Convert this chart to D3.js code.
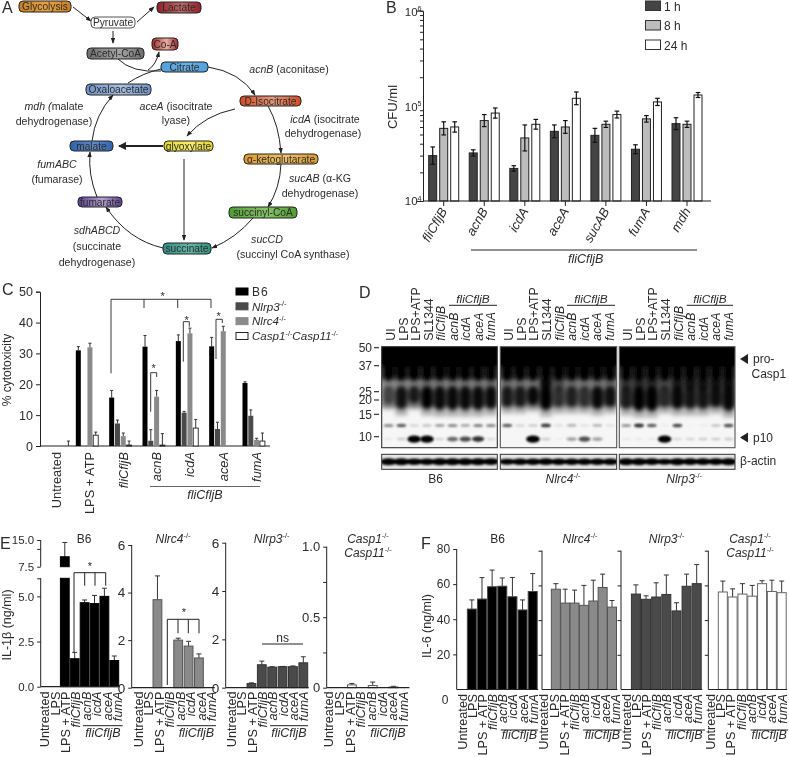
<!DOCTYPE html>
<html><head><meta charset="utf-8">
<script src="https://cdn.jsdelivr.net/npm/d3@7"></script>
<style>html,body{margin:0;background:#fff}svg{display:block;filter:blur(.35px)}text{font-family:"Liberation Sans",Arial,sans-serif;fill:#2b2b2b}</style>
</head><body><div id="c"></div>
<script>
// ---------- DATA ----------
const cfuStrains=["fliCfljB","acnB","icdA","aceA","sucAB","fumA","mdh"];
const cfuTimes=["1 h","8 h","24 h"];
const cfu1h=[30000,32000,22000,54000,49000,35000,65000];
const cfu1hHi=[37000,34500,23500,63000,58000,39000,75000];
const cfu8h=[58000,70000,46000,60000,64000,73000,64000];
const cfu8hHi=[68000,81000,63000,70000,69000,79000,69000];
const cfu24h=[60000,84000,64000,120000,81000,110000,130000];
const cfu24hHi=[68000,95000,72000,140000,88000,120000,138000];

const cytoGroups=["Untreated","LPS + ATP","fliCfljB","acnB","icdA","aceA","fumA"];
const cytoSeries=["B6","Nlrp3","Nlrc4","Casp1Casp11"];
const cytoB6=[0,31,15.7,32.2,34,32.3,20.4];
const cytoB6Hi=[0,32.2,18,35.8,36,35.2,20.8];
const cytoNlrp3=[0,0,7.3,1.7,10.8,5.5,9.8];
const cytoNlrp3Hi=[0,0,8.4,5.3,11.2,7.7,11.7];
const cytoNlrc4=[0,32,3.2,16,36.5,37.2,2];
const cytoNlrc4Hi=[0,33.3,4.2,18,38.2,38.8,2.5];
const cytoCasp=[0,3.5,0.3,0.3,5.8,0,1.6];
const cytoCaspHi=[1.6,4.5,1.6,4,8.6,0,4.2];

const cytokineLabels=["Untreated","LPS","LPS + ATP","fliCfljB","acnB","icdA","aceA","fumA"];
const il1bB6=[0,0,10.3,1.55,4.65,4.6,5,1.45];
const il1bB6Hi=[0,0,14.3,1.9,4.8,5.05,5.45,1.7];
const il1bNlrc4=[0,0,3.7,0,2,1.75,1.25,0];
const il1bNlrc4Hi=[0,0,4.7,0,2.08,1.95,1.42,0];
const il1bNlrp3=[0,0,0.17,0.95,0.85,0.87,0.87,1.03];
const il1bNlrp3Hi=[0,0,0.2,1.1,0.87,0.88,0.9,1.28];
const il1bCasp=[0,0,0.02,0,0.015,0,0.005,0];
const il1bCaspHi=[0,0,0.03,0,0.04,0,0.01,0];
const il6B6=[0,45.8,51.5,58.5,58.8,52.8,45.3,55.8];
const il6B6Hi=[0,51,63.7,68,63.5,63.8,51,66];
const il6Nlrc4=[0,57.8,49.8,49.8,48.5,51,58.8,47.5];
const il6Nlrc4Hi=[0,61,57.8,57.3,60,63,66.5,51.3];
const il6Nlrp3=[0,55,52,53.3,54.8,45.3,59.5,61];
const il6Nlrp3Hi=[0,60.3,54,61.5,66,50,66.5,72];
const il6Casp=[0,56.2,53.3,55,53.8,61,56.5,55.8];
const il6CaspHi=[0,62.5,58,61,60,62.7,63,62.5];

const blotLanes=["UI","LPS","LPS+ATP","SL1344","fliCfljB","acnB","icdA","aceA","fumA"];
const blotMarkers=[50,37,25,20,15,10];
// lane densities, 0..1
const p10B6=[.05,.15,1,1,.12,.5,.6,.7,.1];
const p10Nlrc4=[0,0,1,.15,.03,.3,.6,.3,0];
const p10Nlrp3=[.05,.05,.05,1,.1,.12,.15,.15,.15];
const p13B6=[.5,.7,.15,.25,.4,.5,.35,.55,.5];
const p13Nlrc4=[.7,.15,.2,.85,.1,.3,.1,.3,.1];
const p13Nlrp3=[.45,.9,.7,.05,.8,.02,.05,.25,.75];
const stripB6=[.2,.25,.25,.35,.3,.3,.3,.3,.35];
const stripNlrc4=[.3,.3,.25,.95,.5,.3,.25,.3,.35];
const stripNlrp3=[.6,.7,.7,.45,.8,.85,.85,.85,.9];
const blobB6=[.6,.9,.85,1,.95,.95,.95,.95,.95];
const blobNlrc4=[.85,.85,.95,1,.7,.8,.7,.95,.9];
const blobNlrp3=[.8,1,1,.7,.95,.85,.85,.9,.95];
const blobEndB6=[.56,.62,.56,.62,.63,.63,.63,.63,.62];
const blobEndNlrc4=[.6,.6,.58,.63,.6,.6,.6,.62,.6];
const blobEndNlrp3=[.62,.64,.64,.6,.62,.62,.62,.6,.64];
const actinB6=[.95,.95,.85,.8,.95,.95,.95,.95,.9];
const actinNlrc4=[.7,.8,.8,.9,.8,.8,.8,.8,.8];
const actinNlrp3=[.95,.95,.9,.7,.95,.9,.9,.9,.95];

// pathway
const pathNames=["Glycolysis","Lactate","Pyruvate","Acetyl-CoA","Co-A","Citrate","Oxaloacetate","D-Isocitrate","malate","glyoxylate","α-ketoglutarate","succinyl-CoA","fumarate","succinate"];
const enzymeLabels=["<i>acnB</i> (aconitase)","<i>aceA</i> (isocitrate","lyase)","<i>mdh (</i>malate","dehydrogenase)","<i>icdA</i> (isocitrate","dehydrogenase)","<i>fumABC</i>","(fumarase)","<i>sucAB</i> (α-KG","dehydrogenase)","<i>sdhABCD</i>","(succinate","dehydrogenase)","<i>sucCD</i>","(succinyl CoA synthase)"];

// ---------- LAYOUT ----------
const W=789,H=757;
const svg=d3.select("#c").append("svg").attr("width",W).attr("height",H).attr("viewBox",`0 0 ${W} ${H}`);
const defs=svg.append("defs");
const INK="#222";

function rich(sel,str,supSize){
  const re=/<(i|sup)>(.*?)<\/\1>|([^<]+)/g;let m,after=false;
  const fs=parseFloat(sel.attr("font-size"))||12;
  while((m=re.exec(str))){
    const ts=sel.append("tspan");
    if(m[1]==="i"){ts.attr("font-style","italic").text(m[2]);}
    else if(m[1]==="sup"){ts.attr("font-size",supSize||fs*.62).attr("dy",-fs*.38).text(m[2]);after=true;continue;}
    else ts.text(m[3]);
    if(after){ts.attr("dy",fs*.38);after=false;}
  }
  return sel;
}
function T(x,y,str,size,anchor,rot,g){
  const t=(g||svg).append("text").attr("font-size",size||12).attr("text-anchor",anchor||"start");
  if(rot!=null)t.attr("transform",`translate(${x},${y}) rotate(${rot})`);else t.attr("x",x).attr("y",y);
  return rich(t,str);
}
function ln(x1,y1,x2,y2,w,c){return svg.append("line").attr("x1",x1).attr("y1",y1).attr("x2",x2).attr("y2",y2).attr("stroke",c||INK).attr("stroke-width",w||1);}
function styleAxis(g,w){g.selectAll(".domain").attr("stroke",INK).attr("stroke-width",w||1.2);g.selectAll(".tick line").attr("stroke",INK).attr("stroke-width",w||1.2);g.selectAll("text").attr("fill","#222").style("font-family",'"Liberation Sans",Arial,sans-serif');}
const ital=s=>!/^(Untreated|LPS|UI|SL1344)/.test(s);
const lab=s=>ital(s)?`<i>${s}</i>`:s;

// Panel letters
[["A",2,13],["B",386,13],["C",2,295],["D",359,298],["E",0,549],["F",421,549]].forEach(d=>T(d[1],d[2],d[0],16));

// ---------- PANEL A ----------
const nodeBox=[[19,1,52,11],[157,2,44,11],[91,17,44,11],[87,48,57,11],[152,38,26,12],[161,62,47,10],[86,84,65,11],[240,96,61,10],[70,141,43,10],[164,141,49,10],[244,154,74,10],[229,207,68,11],[78,197,44,10],[163,243,48,11]];
const nodeCols=[["#c97f25","#e9a443"],["#8e1f28","#c06a6a"],["#ffffff","#ffffff"],["#6f6f6f","#a5a5a5"],["#a3282a","#e8b0a0"],["#4f9fdb","#6ab2e6"],["#6f93c8","#a6bfdf"],["#cf4a24","#e79a7e"],["#2f62ad","#5f8cc8"],["#e8d82c","#f8ef6a"],["#dc9a30","#f0c26a"],["#4d9e32","#88c468"],["#5b3f93","#b5a2d0"],["#2f8f80","#66b5a6"]];
const arrowPaths=[
 "M208,67 Q240,72 255,95","M268,106 Q279,125 281,153","M281,164 Q280,188 268,207","M253,218 Q236,238 212,248",
 "M163,248 Q128,240 106,207","M97,197 Q88,175 90,152","M92,141 Q95,115 113,95","M128,83 Q143,73 161,69",
 "M118,59 Q132,73 161,71","M148,70 Q156,65 159,52","M235,109 Q205,115 187,136","M184,159 L184,240",
 "M73,7 L91,21","M137,22 L154,7","M113,31 L113,43"];
const mk=defs.append("marker").attr("id","ah").attr("viewBox","0 0 8 6").attr("refX",7).attr("refY",3).attr("markerWidth",6).attr("markerHeight",4.5).attr("markerUnits","userSpaceOnUse").attr("orient","auto");
mk.append("path").attr("d","M0,0 L8,3 L0,6 Z").attr("fill",INK);
const A=svg.append("g");
arrowPaths.forEach((d,i)=>A.append("path").attr("d",d).attr("fill","none").attr("stroke",INK).attr("stroke-width",1).attr("marker-end",i===7||i===8?null:"url(#ah)"));
A.append("path").attr("d","M163,146 L119,146").attr("stroke",INK).attr("stroke-width",2).attr("fill","none");
A.append("path").attr("d","M126,142 L118,146 L126,150 Z").attr("fill",INK);
pathNames.forEach((n,i)=>{
  const [x,y,w,h]=nodeBox[i],[c0,c1]=nodeCols[i];
  const gr=defs.append("linearGradient").attr("id","g"+i);
  gr.append("stop").attr("offset","0").attr("stop-color",c0);
  gr.append("stop").attr("offset",".55").attr("stop-color",c1);
  gr.append("stop").attr("offset","1").attr("stop-color",c0);
  A.append("rect").attr("x",x).attr("y",y).attr("width",w).attr("height",h).attr("rx",4).attr("fill",`url(#g${i})`).attr("stroke",i===2?"#555":"#222").attr("stroke-width",1);
  T(x+w/2,y+h/2+3.7,n,10.2,"middle",null,A);
});
const enzymePos=[[289,73],[176,110],[176,124],[54,110],[54,125],[325,123],[323,137],[57,168],[57,183],[320,182],[320,197],[97,234],[97,250],[97,266],[267,243],[293,258]];
enzymeLabels.forEach((s,i)=>T(enzymePos[i][0],enzymePos[i][1],s,10.6,"middle",null,A));

// ---------- PANEL B ----------
(function(){
  const y=d3.scaleLog().domain([1e4,1e6]).range([201,10.7]);
  const x=d3.scalePoint().domain(cfuStrains).range([443.7,687]);
  const off=d3.scalePoint().domain(cfuTimes).range([-11,11]);
  const fills=["#444","#bcbcbc","#fff"];
  const major=[1e4,1e5,1e6];
  const ticks=d3.range(1,10).map(d=>d*1e4).concat(d3.range(2,11).map(d=>d*1e5));
  const ax=svg.append("g").attr("transform","translate(423,0)").call(d3.axisLeft(y).tickValues(ticks).tickFormat("").tickSize(3));
  styleAxis(ax,1);
  ax.selectAll(".tick").filter(d=>major.includes(d)).select("line").attr("x2",-6);
  major.forEach((m,i)=>T(421.5,y(m)+(i==0?4:5),`10<sup>${[4,5,6][i]}</sup>`,11.5,"end"));
  const sets=[[cfu1h,cfu1hHi],[cfu8h,cfu8hHi],[cfu24h,cfu24hHi]];
  sets.forEach(([v,hi],k)=>{
    const xx=(i)=>x(cfuStrains[i])+off(cfuTimes[k]);
    svg.append("g").selectAll("rect").data(v).join("rect").attr("x",(d,i)=>xx(i)-4).attr("width",8).attr("y",d=>y(d)).attr("height",d=>y(1e4)-y(d)).attr("fill",fills[k]).attr("stroke","#222").attr("stroke-width",1);
    v.forEach((d,i)=>{
      const up=y(hi[i]),lo=y(d)+(y(d)-up),cx=xx(i);
      ln(cx,up,cx,lo,1.2,"#111");ln(cx-2.3,up,cx+2.3,up,1.2,"#111");ln(cx-2.3,lo,cx+2.3,lo,1.2,"#111");
    });
  });
  ln(423,201,711,201,1.2);
  cfuStrains.forEach(s=>{ln(x(s),201,x(s),206,1);T(x(s)+4,211,`<i>${s}</i>`,13,"end",-60);});
  T(396.5,107,"CFU/ml",13,"middle",-90);
  ln(471,250,697,250,1);T(585.7,263,"<i>fliCfljB</i>",12.5,"middle");
  cfuTimes.forEach((t,k)=>{
    const yy=d3.scalePoint().domain(cfuTimes).range([1,40])(t);
    svg.append("rect").attr("x",645.5).attr("y",yy).attr("width",15).attr("height",9.5).attr("fill",fills[k]).attr("stroke","#333").attr("stroke-width",1);
    T(664,yy+9.5,t,12);
  });
})();

// ---------- PANEL C ----------
(function(){
  const y=d3.scaleLinear().domain([0,50]).range([446,291.7]);
  const x=d3.scalePoint().domain(cytoGroups).range([45,245]);
  const off=d3.scalePoint().domain(cytoSeries).range([0,17.4]);
  const ax=svg.append("g").attr("transform","translate(40,0)").call(d3.axisLeft(y).tickValues([0,10,20,30,40,50]).tickSize(4));
  styleAxis(ax,1);ax.selectAll("text").attr("font-size",12.5);
  ln(40,446,270,446,1.2);
  const fills=["#000","#4a4a4a","#8a8a8a","#fff"];
  const sets=[[cytoB6,cytoB6Hi],[cytoNlrp3,cytoNlrp3Hi],[cytoNlrc4,cytoNlrc4Hi],[cytoCasp,cytoCaspHi]];
  sets.forEach(([v,hi],k)=>{
    v.forEach((d,i)=>{
      const nudge=i===0?6:0;
      const cx=x(cytoGroups[i])+off(cytoSeries[k])+nudge;
      if(hi[i]>0){ln(cx,y(hi[i]),cx,y(d),1,"#333");ln(cx-1.5,y(hi[i]),cx+1.5,y(hi[i]),1,"#333");}
      if(d>0)svg.append("rect").attr("x",cx-2.5).attr("width",5).attr("y",y(d)).attr("height",y(0)-y(d)).attr("fill",fills[k]).attr("stroke",k==3?"#222":"none").attr("stroke-width",.9);
    });
  });
  cytoGroups.forEach(g=>T(x(g)+16,452,lab(g),12.8,"end",-90));
  ln(150,486.5,260,486.5,1,"#666");T(205,499,"<i>fliCfljB</i>",12.5,"middle");
  T(10.5,370,"% cytotoxicity",12,"middle",-90);
  // brackets
  ln(111,299.3,211,299.3,.9);ln(111,299.3,111,373.3,.9);[144,177.7,211].forEach(a=>ln(a,299.3,a,308,.9));
  T(162.7,300,"*",11,"middle");
  [[150.7,156.7,372.7,411.7,377,153.7,372],[183.3,189.3,321.7,361.7,326.7,186.7,324],[216,222.3,319.3,359,323,218.7,320]].forEach(b=>{
    ln(b[0],b[2],b[1],b[2],.9);ln(b[0],b[2],b[0],b[3],.9);ln(b[1],b[2],b[1],b[4],.9);T(b[5],b[6],"*",11,"middle");
  });
  const names=["B6","<i>Nlrp3</i><sup>-/-</sup>","<i>Nlrc4</i><sup>-/-</sup>","<i>Casp1</i><sup>-/-</sup><i>Casp11</i><sup>-/-</sup>"];
  const ly=d3.scalePoint().domain(cytoSeries).range([288,332.5]);
  cytoSeries.forEach((s,k)=>{
    svg.append("rect").attr("x",236).attr("y",ly(s)).attr("width",12).attr("height",7).attr("fill",fills[k]).attr("stroke",k==3?"#222":fills[k]);
    const t=T(252,ly(s)+7.7,names[k],k==0?12:11.6);
    if(k==0)t.attr("letter-spacing",1);
  });
})();

// ---------- PANEL D ----------
(function(){
  defs.append("filter").attr("id","bl").attr("x","-10%").attr("y","-10%").attr("width","120%").attr("height","120%").append("feGaussianBlur").attr("stdDeviation",2);
  defs.append("filter").attr("id","bs").attr("x","-40%").attr("y","-80%").attr("width","180%").attr("height","260%").append("feGaussianBlur").attr("stdDeviation",.9);
  const blots=[
   {x0:381.7,x1:497.3,p10:p10B6,p13:p13B6,strip:stripB6,blob:blobB6,end:blobEndB6,actin:actinB6,lx:391,rx0:449,rx1:497,name:"B6"},
   {x0:500.3,x1:616.7,p10:p10Nlrc4,p13:p13Nlrc4,strip:stripNlrc4,blob:blobNlrc4,end:blobEndNlrc4,actin:actinNlrc4,lx:509.3,rx0:567,rx1:615,name:"<i>Nlrc4</i><sup>-/-</sup>"},
   {x0:619.3,x1:735,p10:p10Nlrp3,p13:p13Nlrp3,strip:stripNlrp3,blob:blobNlrp3,end:blobEndNlrp3,actin:actinNlrp3,lx:628.3,rx0:686.7,rx1:733,name:"<i>Nlrp3</i><sup>-/-</sup>"}];
  const fy=d3.scaleLinear().domain([0,1]).range([346.7,447.7]);
  blots.forEach((b,bi)=>{
    const xs=d3.scaleBand().domain(blotLanes).range([b.x0+1,b.x1-.5]).paddingInner(.08);
    const cid="cp"+bi;
    defs.append("clipPath").attr("id",cid).append("rect").attr("x",b.x0).attr("y",fy(0)).attr("width",b.x1-b.x0).attr("height",fy(1)-fy(0));
    defs.append("clipPath").attr("id",cid+"a").append("rect").attr("x",b.x0).attr("y",454.3).attr("width",b.x1-b.x0).attr("height",15);
    svg.append("rect").attr("x",b.x0).attr("y",fy(0)).attr("width",b.x1-b.x0).attr("height",fy(1)-fy(0)).attr("fill","#f6f6f6");
    const g=svg.append("g").attr("clip-path",`url(#${cid})`);
    const gg=g.append("g").attr("filter","url(#bl)");
    const mean=d3.mean(b.strip);
    gg.append("rect").attr("x",b.x0-4).attr("y",fy(-.05)).attr("width",b.x1-b.x0+8).attr("height",fy(.2)-fy(-.05)).attr("fill","#000");
    gg.append("rect").attr("x",b.x0-4).attr("y",fy(.2)).attr("width",b.x1-b.x0+8).attr("height",fy(.33)-fy(.2)).attr("fill","#444");
    gg.append("rect").attr("x",b.x0-4).attr("y",fy(.33)).attr("width",b.x1-b.x0+8).attr("height",fy(.6)-fy(.33)).attr("fill","#000").attr("opacity",.25+mean*.3);
    blotLanes.forEach((l,i)=>{
      const X=xs(l),w=xs.bandwidth();
      gg.append("rect").attr("x",X).attr("y",fy(0)).attr("width",w).attr("height",fy(.34)-fy(0)).attr("rx",w/2).attr("fill","#000");
      gg.append("rect").attr("x",X).attr("y",fy(.31)).attr("width",w).attr("height",fy(.42)-fy(.31)).attr("fill","#000").attr("opacity",b.strip[i]);
      gg.append("rect").attr("x",X).attr("y",fy(.39)).attr("width",w).attr("height",fy(b.end[i])-fy(.39)).attr("rx",w/2).attr("fill","#000").attr("opacity",b.blob[i]);
      gg.append("rect").attr("x",X).attr("y",fy(b.end[i]-.03)).attr("width",w).attr("height",fy(.09)-fy(0)).attr("fill","#000").attr("opacity",.3);
      g.append("ellipse").attr("filter","url(#bs)").attr("cx",X+w/2).attr("cy",fy(.78)).attr("rx",w*.42).attr("ry",1.1+b.p13[i]*.9).attr("fill","#000").attr("opacity",Math.min(1,b.p13[i]*.9));
      const s=b.p10[i];
      g.append("ellipse").attr("filter","url(#bs)").attr("cx",X+w/2).attr("cy",fy(.915)).attr("rx",w*(.38+.2*s)).attr("ry",1+s*2.6).attr("fill","#000").attr("opacity",Math.min(1,s*1.15));
    });
    svg.append("rect").attr("x",b.x0).attr("y",fy(0)).attr("width",b.x1-b.x0).attr("height",fy(1)-fy(0)).attr("fill","none").attr("stroke",bi==0?"#333":"#555").attr("stroke-width",1.1);
    // actin
    svg.append("rect").attr("x",b.x0).attr("y",454.3).attr("width",b.x1-b.x0).attr("height",15).attr("fill","#e6e6e6");
    const ag=svg.append("g").attr("clip-path",`url(#${cid}a)`).append("g").attr("filter","url(#bs)");
    blotLanes.forEach((l,i)=>{
      ag.append("ellipse").attr("cx",xs(l)+xs.bandwidth()/2).attr("cy",461.7).attr("rx",xs.bandwidth()*.72).attr("ry",1.6+2*b.actin[i]).attr("fill","#000");
    });
    svg.append("rect").attr("x",b.x0).attr("y",454.3).attr("width",b.x1-b.x0).attr("height",15).attr("fill","none").attr("stroke","#333").attr("stroke-width",1);
    // lane labels
    const lx=d3.scalePoint().domain(blotLanes).range([b.lx+4,b.lx+4+8*12.55]);
    blotLanes.forEach(l=>T(lx(l),340.7,lab(l),12.3,"start",-90));
    ln(b.rx0,305.3,b.rx1,305.3,1);
    T((b.rx0+b.rx1)/2,302.7,"<i>fliCfljB</i>",11.8,"middle");
    T((b.x0+b.x1)/2+(bi==0?-4:bi==1?4.5:7),483,b.name,12,"middle");
  });
  const my=d3.scaleOrdinal().domain(blotMarkers).range([347.7,365.7,391.7,400,414.3,436.7]);
  blotMarkers.forEach(m=>{T(372,my(m)+4.2,String(m),12,"end");ln(374,my(m),379,my(m),1.1);});
  [359,437.5].forEach(yy=>svg.append("path").attr("d",`M748,${yy-5} L748,${yy+5} L740,${yy} Z`).attr("fill","#222"));
  T(753,362.7,"pro-",12);T(751.5,378,"Casp1",12);T(753,441.7,"p10",12);T(740,465,"β-actin",12);
})();

// ---------- PANELS E, F ----------
function barPanel(o){
  const x=d3.scalePoint().domain(cytokineLabels).range(o.xr);
  const lx=d3.scalePoint().domain(cytokineLabels).range(o.lr);
  const y=o.y;
  o.v.forEach((d,i)=>{
    const cx=x(cytokineLabels[i]);
    if(o.hi[i]>0&&o.hi[i]!==d){
      const top=(o.yHigh&&o.hi[i]>o.brk)?o.yHigh(o.hi[i]):y(o.hi[i]);
      const tb=(o.yHigh&&d>o.brk)?o.yHigh(d):y(d);
      ln(cx,top,cx,tb,1,"#333");ln(cx-2.5,top,cx+2.5,top,1,"#333");
    }
    if(d>0){
      const r=(y0,y1)=>svg.append("rect").attr("x",cx-o.bw/2).attr("width",o.bw).attr("y",y1).attr("height",y0-y1).attr("fill",o.fill).attr("stroke",o.stroke).attr("stroke-width",1);
      if(o.yHigh&&d>o.brk){r(y(0),y(6));r(o.yHigh(7.5),o.yHigh(d));}
      else r(y(0),y(d));
    }
  });
  ln(o.ax,y(0),o.xr[1]+o.bw/2+1,y(0),1.2);
  cytokineLabels.forEach(l=>T(lx(l),o.ltop,lab(l),o.lsize,"end",-90));
  ln(o.rule[0],o.ruleY,o.rule[1],o.ruleY,1);
  T((o.rule[0]+o.rule[1])/2,o.ruleY+o.rdy,"<i>fliCfljB</i>",12.5,"middle");
  return x;
}
function axis(xpos,scale,vals,fmt,size){
  const g=svg.append("g").attr("transform",`translate(${xpos},0)`).call(d3.axisLeft(scale).tickValues(vals).tickFormat(fmt||"").tickSize(3.5));
  styleAxis(g,1);g.selectAll("text").attr("font-size",size||12.5);
  g.select(".domain").attr("d",`M0,${scale.range()[0]}V${scale.range()[1]}`);
  return g;
}
// E
(function(){
  const yLow=d3.scaleLinear().domain([0,6]).range([686.7,578.3]);
  const yHigh=d3.scaleLinear().domain([7.5,15]).range([566.7,540]);
  axis(40.7,yLow,[0,2.5,5,6],d=>d==6?"":d3.format(".1f")(d),11.5);
  axis(40.7,yHigh,[7.5,12.5,15],d=>d==12.5?"":d3.format(".1f")(d),11.5);
  const common={bw:8.8,ltop:691.5,lsize:12.7,ruleY:725.7,rdy:11};
  barPanel({...common,xr:[45,114.3],lr:[49.3,122],y:yLow,yHigh,brk:6,v:il1bB6,hi:il1bB6Hi,fill:"#000",stroke:"#000",ax:40.7,rule:[83,122.7]});
  const y2=d3.scaleLinear().domain([0,6]).range([687.7,545]);
  axis(131.7,y2,[0,2,4,6],d3.format("d"),13.5);
  barPanel({...common,xr:[136.7,209.3],lr:[142.7,216],y:y2,v:il1bNlrc4,hi:il1bNlrc4Hi,fill:"#8a8a8a",stroke:"#555",ax:131.7,rule:[176.7,216]});
  const y3=d3.scaleLinear().domain([0,6]).range([687.7,542.7]);
  axis(225.7,y3,[0,2,4,6],d3.format("d"),13.5);
  barPanel({...common,xr:[230.7,303.3],lr:[236,308.3],y:y3,v:il1bNlrp3,hi:il1bNlrp3Hi,fill:"#4a4a4a",stroke:"#333",ax:225.7,rule:[270,308]});
  const y4=d3.scaleLinear().domain([0,1]).range([687.7,546.7]);
  axis(326.7,y4,[0,.25,.5,.75,1],d=>d==1?"1.0":d==.5?"0.5":d==0?"0":"",13);
  barPanel({...common,xr:[331,404],lr:[333.3,408],y:y4,v:il1bCasp,hi:il1bCaspHi,fill:"#fff",stroke:"#555",ax:326.7,rule:[368,408]});
  T(10.5,625,"IL-1β (ng/ml)",12.5,"middle",-90);
  ln(74,572.7,105.7,572.7,1);ln(74,572.7,74,653,1);[84.7,95,105.7].forEach(a=>ln(a,572.7,a,585.7,1));T(90,570,"*",11,"middle");
  ln(167.3,619.3,199,619.3,1);ln(167.3,619.3,167.3,685,1);[178,188.3,199].forEach(a=>ln(a,619.3,a,633.3,1));T(184,616,"*",11,"middle");
  ln(262,644,303,644,1);T(282.7,641.7,"ns",12,"middle");
  T(84,542.7,"B6",12,"middle");T(173,543,"<i>Nlrc4</i><sup>-/-</sup>",12,"middle");T(271.7,543,"<i>Nlrp3</i><sup>-/-</sup>",12,"middle");
  T(368,543,"<i>Casp1</i><sup>-/-</sup>",12,"middle");T(368,557,"<i>Casp11</i><sup>-/-</sup>",12,"middle");
})();
// F
(function(){
  const y=d3.scaleLinear().domain([0,80]).range([689.5,549]);
  const yb=d3.scaleLinear().domain([0,80]).range([689.5,550.7]);
  axis(456.7,y,[20,40,60,80],d3.format("d"),12);
  T(445,704,"0",12,"middle");
  const common={bw:9,ltop:694,lsize:12.7,ruleY:730,rdy:9};
  barPanel({...common,xr:[461.7,532.7],lr:[466.7,537.7],y,v:il6B6,hi:il6B6Hi,fill:"#000",stroke:"#444",ax:456.7,rule:[500.7,538]});
  axis(542,yb,[20,40,60,80],"");
  barPanel({...common,xr:[546.5,612],lr:[548.3,620],y:yb,v:il6Nlrc4,hi:il6Nlrc4Hi,fill:"#8a8a8a",stroke:"#555",ax:542,rule:[583,621.7]});
  axis(621,yb,[20,40,60,80],"");
  barPanel({...common,xr:[625.8,696.7],lr:[631,701.7],y:yb,v:il6Nlrp3,hi:il6Nlrp3Hi,fill:"#4a4a4a",stroke:"#333",ax:621,rule:[665,705]});
  axis(708.3,yb,[20,40,60,80],"");
  barPanel({...common,xr:[713,781.7],lr:[715,786.5],y:yb,v:il6Casp,hi:il6CaspHi,fill:"#fff",stroke:"#666",ax:708.3,rule:[750.5,788]});
  T(431,626,"IL-6 (ng/ml)",12.5,"middle",-90);
  T(497.7,543,"B6",12,"middle");T(580,543,"<i>Nlrc4</i><sup>-/-</sup>",12,"middle");T(666.7,543,"<i>Nlrp3</i><sup>-/-</sup>",12,"middle");
  T(750,543,"<i>Casp1</i><sup>-/-</sup>",12,"middle");T(750,557,"<i>Casp11</i><sup>-/-</sup>",12,"middle");
})();
</script></body></html>
